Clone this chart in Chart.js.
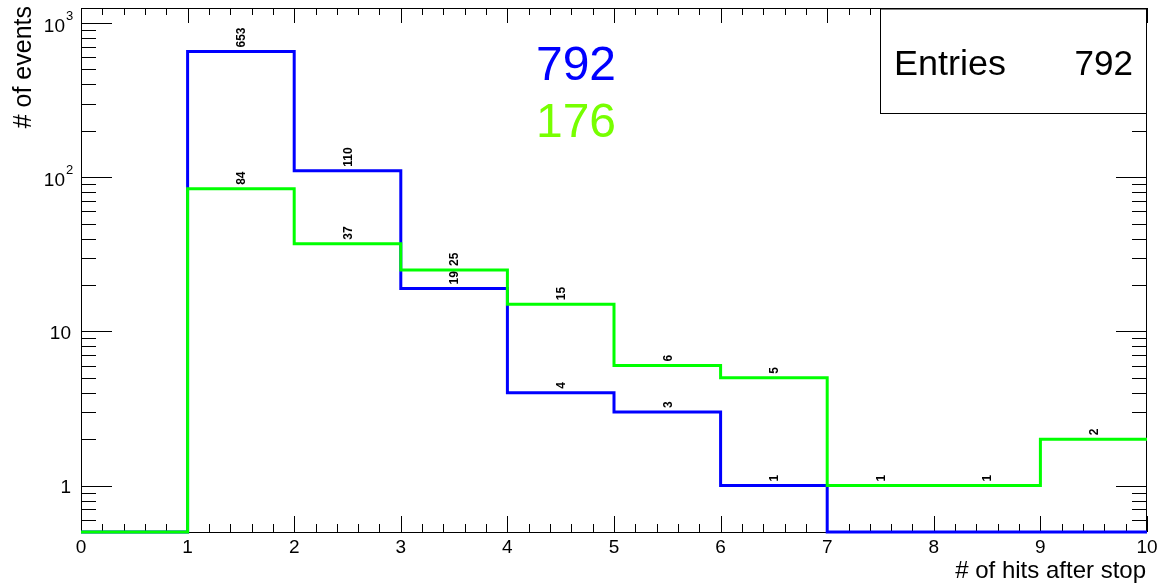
<!DOCTYPE html>
<html>
<head>
<meta charset="utf-8">
<script src="https://cdn.jsdelivr.net/npm/chart.js@4.4.1/dist/chart.umd.min.js"></script>
<style>
  html, body { margin: 0; padding: 0; background: #fff; }
  #wrap { width: 1158px; height: 585px; }
</style>
</head>
<body>
<div id="wrap"><canvas id="hist" width="1158" height="585"></canvas></div>
<script>
// bin i spans binEdges[i] .. binEdges[i+1]
const binEdges = [0, 1, 2, 3, 4, 5, 6, 7, 8, 9, 10];
const blueCounts = [0, 653, 110, 19, 4, 3, 1, 0, 0, 0];
const greenCounts = [0, 84, 37, 25, 15, 6, 5, 1, 1, 2];

const blueTotal = '792';
const greenTotal = '176';
const statsLabel = 'Entries';
const statsValue = '792';

const xTickValues = [0, 1, 2, 3, 4, 5, 6, 7, 8, 9, 10];
const xTickLabels = ['0', '1', '2', '3', '4', '5', '6', '7', '8', '9', '10'];
const yTickValues = [1, 10, 100, 1000];
const yTickBase = ['1', '10', '10', '10'];
const yTickExp = ['', '', '2', '3'];

const xTitle = '# of hits after stop';
const yTitle = '# of events';

const xMin = 0, xMax = 10;
const yMin = 0.5, yMax = 1250;

const BLUE = '#0000ff';
const GREEN = '#00ff00';
const FONT = '"Liberation Sans", Arial, Helvetica, sans-serif';

// histogram outline as step points; empty bins sit on the axis floor like ROOT does
function stepPoints(counts) {
    const pts = counts.map((c, i) => ({ x: binEdges[i], y: Math.max(c, yMin) }));
    pts.push({ x: binEdges[binEdges.length - 1], y: Math.max(counts[counts.length - 1], yMin) });
    return pts;
}

function fitText(ctx, text, x, y, width) {
    const w = ctx.measureText(text).width;
    ctx.save();
    ctx.translate(x, y);
    ctx.scale(width / w, 1);
    ctx.fillText(text, 0, 0);
    ctx.restore();
}

const rootDecor = {
    id: 'rootDecor',
    beforeDatasetsDraw(chart) {
        const { ctx, chartArea: a, scales } = chart;
        const xs = scales.x, ys = scales.y;
        const L = Math.round(a.left), R = Math.round(a.right), T = Math.round(a.top), B = Math.round(a.bottom);
        ctx.save();
        ctx.strokeStyle = '#000';
        ctx.lineWidth = 1;
        ctx.strokeRect(L + 0.5, T + 0.5, R - L - 1, B - T);

        ctx.beginPath();
        // x ticks, 0.2 steps, major every unit
        for (let k = 0; k <= 50; k++) {
            const v = xMin + k * 0.2;
            const px = Math.round(xs.getPixelForValue(v)) + 0.5;
            const major = k % 5 === 0;
            ctx.moveTo(px, B);
            ctx.lineTo(px, B - (major ? 16 : 8));
            ctx.moveTo(px, T);
            ctx.lineTo(px, T + (major ? 15 : 7));
        }
        // log y ticks on both sides
        for (let e = -1; e <= 3; e++) {
            for (let m = 1; m <= 9; m++) {
                const v = m * Math.pow(10, e);
                if (v < yMin - 1e-9 || v > yMax) continue;
                const py = Math.round(ys.getPixelForValue(v)) + 0.5;
                const len = m === 1 ? 31 : 15;
                ctx.moveTo(L, py);
                ctx.lineTo(L + len, py);
                ctx.moveTo(R, py);
                ctx.lineTo(R - len, py);
            }
        }
        ctx.stroke();

        ctx.fillStyle = '#000';
        ctx.font = '19px ' + FONT;
        ctx.textAlign = 'center';
        ctx.textBaseline = 'middle';
        xTickLabels.forEach((t, i) => {
            ctx.fillText(t, xs.getPixelForValue(xTickValues[i]), 548);
        });

        yTickValues.forEach((v, i) => {
            const py = ys.getPixelForValue(v);
            ctx.textBaseline = 'middle';
            if (yTickExp[i]) {
                ctx.font = '19px ' + FONT;
                ctx.textAlign = 'right';
                ctx.fillText(yTickBase[i], 65, py + 4);
                ctx.font = '13px ' + FONT;
                ctx.textAlign = 'left';
                ctx.fillText(yTickExp[i], 66, py - 7);
            } else {
                ctx.font = '19px ' + FONT;
                ctx.textAlign = 'right';
                ctx.fillText(yTickBase[i], 71, py + 2);
            }
        });

        // axis titles
        ctx.font = '24px ' + FONT;
        ctx.textAlign = 'right';
        ctx.textBaseline = 'alphabetic';
        ctx.fillText(xTitle, R - 1, 578);

        ctx.save();
        ctx.translate(31, 6);
        ctx.rotate(-Math.PI / 2);
        ctx.font = '25px ' + FONT;
        ctx.textAlign = 'right';
        ctx.textBaseline = 'alphabetic';
        ctx.fillText(yTitle, 0, 0);
        ctx.restore();

        ctx.restore();
    },
    afterDatasetsDraw(chart) {
        const { ctx, chartArea: a, scales } = chart;
        const xs = scales.x, ys = scales.y;
        ctx.save();

        // bin contents, written upward above each bin
        ctx.fillStyle = '#000';
        ctx.font = 'bold 12px ' + FONT;
        ctx.textAlign = 'left';
        ctx.textBaseline = 'middle';
        [blueCounts, greenCounts].forEach(counts => {
            counts.forEach((c, i) => {
                if (c <= 0) return;
                const xc = xs.getPixelForValue((binEdges[i] + binEdges[i + 1]) / 2);
                const yc = ys.getPixelForValue(c);
                ctx.save();
                ctx.translate(xc + 1, yc - 4);
                ctx.rotate(-Math.PI / 2);
                ctx.fillText(String(c), 0, 0);
                ctx.restore();
            });
        });

        // totals in series colours
        ctx.font = '48px ' + FONT;
        ctx.textAlign = 'center';
        ctx.textBaseline = 'alphabetic';
        ctx.fillStyle = BLUE;
        ctx.fillText(blueTotal, 576, 80);
        ctx.fillStyle = '#77ff00';
        ctx.fillText(greenTotal, 576, 137);

        // stats box
        const bx = 880, by = Math.round(a.top), bw = Math.round(a.right) - 880, bh = 113 - by;
        ctx.fillStyle = '#fff';
        ctx.fillRect(bx, by, bw, bh);
        ctx.strokeStyle = '#000';
        ctx.lineWidth = 1;
        ctx.strokeRect(bx + 0.5, by + 0.5, bw - 1, bh);
        ctx.beginPath();
        ctx.moveTo(bx, by + 1);
        ctx.lineTo(bx + bw, by + 1);
        ctx.stroke();
        ctx.fillStyle = '#000';
        ctx.font = '35px ' + FONT;
        ctx.textAlign = 'left';
        fitText(ctx, statsLabel, 894, 75, 112);
        ctx.textAlign = 'right';
        ctx.fillText(statsValue, 1133, 75);

        ctx.restore();
    }
};

new Chart(document.getElementById('hist'), {
    type: 'line',
    data: {
        datasets: [
            {
                label: 'green',
                data: stepPoints(greenCounts),
                borderColor: GREEN,
                borderWidth: 3,
                stepped: 'before',
                pointRadius: 0,
                fill: false,
                clip: false,
                order: 0
            },
            {
                label: 'blue',
                data: stepPoints(blueCounts),
                borderColor: BLUE,
                borderWidth: 3,
                stepped: 'before',
                pointRadius: 0,
                fill: false,
                clip: false,
                order: 1
            }
        ]
    },
    options: {
        responsive: false,
        devicePixelRatio: 1,
        animation: false,
        layout: { padding: { left: 81, top: 8, right: 11, bottom: 53 } },
        plugins: {
            legend: { display: false },
            tooltip: { enabled: false }
        },
        scales: {
            x: { type: 'linear', min: xMin, max: xMax, display: false },
            y: { type: 'logarithmic', min: yMin, max: yMax, display: false }
        }
    },
    plugins: [rootDecor]
});
</script>
</body>
</html>
